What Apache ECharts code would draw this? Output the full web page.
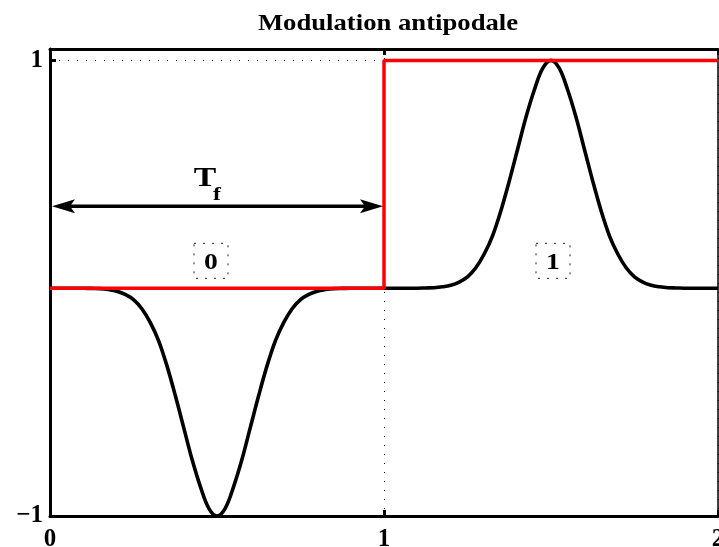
<!DOCTYPE html>
<html>
<head>
<meta charset="utf-8">
<script src="https://cdn.jsdelivr.net/npm/echarts@6/dist/echarts.min.js"></script>
<style>
  html, body { margin: 0; padding: 0; background: #fff; }
  #chart { width: 719px; height: 547px; }
</style>
</head>
<body>
<div id="chart"></div>
<script>
// Sample instants (in bit periods) of the shaped antipodal signal
const timeAxis = [
  0.000, 0.025, 0.050, 0.075, 0.100, 0.125, 0.150, 0.175, 0.200, 0.225,
  0.250, 0.275, 0.300, 0.325, 0.350, 0.375, 0.400, 0.425, 0.450, 0.475,
  0.500, 0.525, 0.550, 0.575, 0.600, 0.625, 0.650, 0.675, 0.700, 0.725,
  0.750, 0.775, 0.800, 0.825, 0.850, 0.875, 0.900, 0.925, 0.950, 0.975,
  1.000, 1.025, 1.050, 1.075, 1.100, 1.125, 1.150, 1.175, 1.200, 1.225,
  1.250, 1.275, 1.300, 1.325, 1.350, 1.375, 1.400, 1.425, 1.450, 1.475,
  1.500, 1.525, 1.550, 1.575, 1.600, 1.625, 1.650, 1.675, 1.700, 1.725,
  1.750, 1.775, 1.800, 1.825, 1.850, 1.875, 1.900, 1.925, 1.950, 1.975,
  2.000
];

// Pulse amplitude: negative pulse for bit 0, positive pulse for bit 1
const pulseSignal = [
   0.000,  0.000,  0.000,  0.000,  0.000, -0.001, -0.002, -0.006, -0.013, -0.027,
  -0.050, -0.090, -0.150, -0.230, -0.340, -0.470, -0.610, -0.750, -0.870, -0.965,
  -1.000, -0.965, -0.870, -0.750, -0.610, -0.470, -0.340, -0.230, -0.150, -0.090,
  -0.050, -0.027, -0.013, -0.006, -0.002, -0.001,  0.000,  0.000,  0.000,  0.000,
   0.000,  0.000,  0.000,  0.000,  0.000,  0.001,  0.002,  0.006,  0.013,  0.027,
   0.050,  0.090,  0.150,  0.230,  0.340,  0.470,  0.610,  0.750,  0.870,  0.965,
   1.000,  0.965,  0.870,  0.750,  0.610,  0.470,  0.340,  0.230,  0.150,  0.090,
   0.050,  0.027,  0.013,  0.006,  0.002,  0.001,  0.000,  0.000,  0.000,  0.000,
   0.000
];

// Binary data sequence drawn as a step signal
const bitTimes  = [0, 1, 1, 2];
const bitLevels = [0, 0, 1, 1];

// Bit value annotations
const bitLabels = ['0', '1'];
const bitLabelTimes = [0.482, 1.506];
const bitLabelLevel = 0.12;

// Bit period marker (T_f)
const periodStart = 0;
const periodEnd = 1;
const periodLevel = 0.36;
const periodLabelPos = [0.464, 0.478];

// Axis ticks
const xTicks = [0, 1, 2];
const yTicks = [-1, 1];

const titleText = 'Modulation antipodale';

const SERIF = '"Liberation Serif", "Times New Roman", serif';

const chart = echarts.init(document.getElementById('chart'), null, { renderer: 'canvas' });

const frameTick = { show: true, inside: true, length: 6, lineStyle: { color: '#000', width: 3 } };

const option = {
  animation: false,
  backgroundColor: '#fff',
  graphic: [{
    type: 'text',
    x: 388,
    y: 24,
    scaleX: 1.16,
    style: {
      text: titleText,
      font: 'bold 23px ' + SERIF,
      fill: '#000',
      textAlign: 'center',
      textVerticalAlign: 'middle'
    }
  }],
  grid: { left: 50, right: 1, top: 49, bottom: 31, containLabel: false, outerBoundsMode: 'none' },
  xAxis: [{
    type: 'value',
    min: xTicks[0],
    max: xTicks[xTicks.length - 1],
    interval: 1,
    position: 'bottom',
    axisLine: { show: true, onZero: false, lineStyle: { color: '#000', width: 3 } },
    axisTick: frameTick,
    axisLabel: {
      margin: 11,
      color: '#000',
      fontFamily: SERIF,
      fontWeight: 'bold',
      fontSize: 25,
      hideOverlap: false,
      formatter: v => (xTicks.indexOf(v) >= 0 ? String(v) : '')
    },
    splitLine: { show: true, lineStyle: { color: '#000', width: 1, type: [1, 8] } }
  }, {
    type: 'value',
    min: xTicks[0],
    max: xTicks[xTicks.length - 1],
    interval: 1,
    position: 'top',
    axisLine: { show: true, onZero: false, lineStyle: { color: '#000', width: 3 } },
    axisTick: frameTick,
    axisLabel: { show: false },
    splitLine: { show: false }
  }],
  yAxis: [{
    type: 'value',
    min: -1,
    max: 1.05,
    interval: 2,
    position: 'left',
    axisLine: { show: true, onZero: false, lineStyle: { color: '#000', width: 3 } },
    axisTick: frameTick,
    axisLabel: {
      margin: 7,
      color: '#000',
      fontFamily: SERIF,
      fontWeight: 'bold',
      fontSize: 25,
      formatter: v => (yTicks.indexOf(v) >= 0 ? String(v).replace('-', '\u2212') : '')
    },
    splitLine: { show: true, lineStyle: { color: '#000', width: 1, type: [1, 8] } }
  }, {
    type: 'value',
    min: -1,
    max: 1.05,
    interval: 2,
    position: 'right',
    axisLine: { show: true, onZero: false, lineStyle: { color: '#000', width: 1.5 } },
    axisTick: { show: false },
    axisLabel: { show: false },
    splitLine: { show: false }
  }],
  series: [
    {
      name: 'signal',
      type: 'line',
      xAxisIndex: 0,
      yAxisIndex: 0,
      data: timeAxis.map((t, i) => [t, pulseSignal[i]]),
      showSymbol: false,
      smooth: 0.35,
      lineStyle: { color: '#000', width: 3.6 },
      z: 3
    },
    {
      name: 'bits',
      type: 'line',
      xAxisIndex: 0,
      yAxisIndex: 0,
      data: bitTimes.map((t, i) => [t, bitLevels[i]]),
      showSymbol: false,
      lineStyle: { color: '#ff0000', width: 3.5 },
      z: 4
    },
    {
      name: 'period',
      type: 'custom',
      xAxisIndex: 0,
      yAxisIndex: 0,
      clip: false,
      z: 5,
      data: [[periodStart, periodLevel, periodEnd, periodLabelPos[0], periodLabelPos[1]]],
      renderItem: (params, api) => {
        const a = api.coord([api.value(0), api.value(1)]);
        const b = api.coord([api.value(2), api.value(1)]);
        const lbl = api.coord([api.value(3), api.value(4)]);
        const ax = a[0] + 2, bx = b[0] - 1, y = a[1];
        const headL = 23, headW = 7, notch = 5;
        return {
          type: 'group',
          children: [
            { type: 'line', shape: { x1: ax + 10, y1: y, x2: bx - 10, y2: y },
              style: { stroke: '#000', lineWidth: 3.5 } },
            { type: 'polygon', shape: { points: [[ax, y], [ax + headL, y - headW], [ax + headL - notch, y], [ax + headL, y + headW]] },
              style: { fill: '#000' } },
            { type: 'polygon', shape: { points: [[bx, y], [bx - headL, y - headW], [bx - headL + notch, y], [bx - headL, y + headW]] },
              style: { fill: '#000' } },
            { type: 'text', x: lbl[0], y: lbl[1], scaleX: 1.25,
              style: { text: 'T', font: 'bold 27px ' + SERIF, fill: '#000', textAlign: 'center', textVerticalAlign: 'middle' } },
            { type: 'text', x: lbl[0] + 12, y: lbl[1] + 16, scaleX: 1.25,
              style: { text: 'f', font: 'bold 19px ' + SERIF, fill: '#000', textAlign: 'center', textVerticalAlign: 'middle' } }
          ]
        };
      }
    },
    {
      name: 'bit labels',
      type: 'custom',
      xAxisIndex: 0,
      yAxisIndex: 0,
      clip: false,
      z: 5,
      data: bitLabels.map((s, i) => [bitLabelTimes[i], bitLabelLevel, s]),
      renderItem: (params, api) => {
        const p = api.coord([api.value(0), api.value(1)]);
        const txt = bitLabels[params.dataIndex];
        const w = 34, h = 35;
        return {
          type: 'group',
          children: [
            { type: 'rect', shape: { x: p[0] - w / 2, y: p[1] - h / 2, width: w, height: h },
              style: { fill: 'none', stroke: '#222', lineWidth: 1, lineDash: [2, 7] } },
            { type: 'text', x: p[0], y: p[1] + 2, scaleX: 1.15,
              style: { text: txt, font: 'bold 24px ' + SERIF, fill: '#000', textAlign: 'center', textVerticalAlign: 'middle' } }
          ]
        };
      }
    }
  ]
};

chart.setOption(option);
</script>
</body>
</html>
